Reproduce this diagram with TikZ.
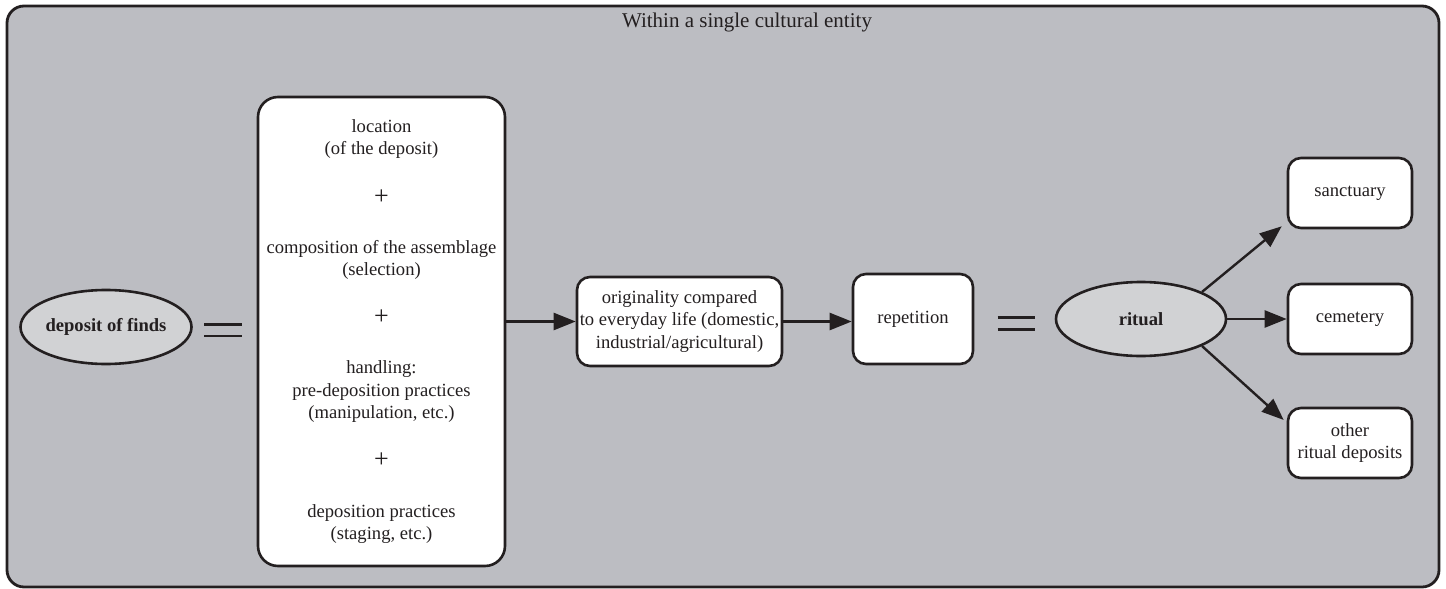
\documentclass[tikz,border=0pt]{standalone}
\usepackage{fontspec}
\setmainfont{Liberation Serif}
\usepackage{xcolor}
\usepackage{tikz}
\usetikzlibrary{shapes.geometric,arrows.meta,positioning}

\definecolor{framegray}{RGB}{188,189,194}
\definecolor{ovalgray}{RGB}{209,210,212}
\definecolor{inkgray}{RGB}{35,31,32}

\newcommand{\plusline}{{\fontsize{13}{11.25}\selectfont +}}

\begin{document}
\begin{tikzpicture}[
    x=0.5pt, y=-0.5pt,
    every node/.style={text=inkgray, font=\fontsize{9.3}{11.25}\selectfont},
    box/.style={rectangle, draw=inkgray, line width=1.3pt, fill=white, rounded corners=6.5pt, align=center, inner sep=1pt},
    bigbox/.style={box, rounded corners=10pt, minimum width=123.5pt, minimum height=234.5pt},
    leafbox/.style={box, minimum width=62pt, minimum height=35pt},
    oval/.style={ellipse, draw=inkgray, line width=1.3pt, fill=ovalgray, minimum width=85pt, minimum height=37pt, inner sep=0pt, font=\fontsize{9.3}{11.25}\selectfont\bfseries},
    eqsign/.style={minimum width=18.5pt, minimum height=5.5pt, inner sep=0pt},
    eqline/.style={line width=1.4pt, draw=inkgray},
    arrow/.style={-{Triangle[length=11pt,width=8.5pt]}, line width=1.2pt, draw=inkgray}
]

\useasboundingbox (0,0) rectangle (1446,589);

% Frame
\draw[line width=1.4pt, draw=inkgray, fill=framegray, rounded corners=8.5pt] (7,6) rectangle (1439,587);
\node[font=\fontsize{10.5}{12.5}\selectfont] (title) at (747,22) {Within a single cultural entity};

% Left part
\node[oval] (deposit) at (106,327) {deposit of finds};
\node[eqsign] (eqleft) at (223,330) {};
\node[bigbox] (criteria) at (381.5,331.5) {location\\(of the deposit)\\[13.3pt]
    \plusline\\[13.3pt]
    composition of the assemblage\\(selection)\\[13.3pt]
    \plusline\\[13.3pt]
    handling:\\pre-deposition practices\\(manipulation, etc.)\\[13.3pt]
    \plusline\\[13.3pt]
    deposition practices\\(staging, etc.)};

% Middle part
\node[box, minimum width=102.5pt, minimum height=44.5pt] (origin) at (679.5,321.5) {originality compared\\to everyday life (domestic,\\industrial/agricultural)};
\node[box, minimum width=60pt, minimum height=45pt] (repeat) at (913,319) {repetition};
\node[eqsign] (eqright) at (1016.5,323.5) {};

% Right part
\node[oval] (ritual) at (1141,319) {ritual};
\node[leafbox] (sanctuary) at (1350,193) {sanctuary};
\node[leafbox] (cemetery) at (1350,319) {cemetery};
\node[leafbox] (otherdep) at (1350,443) {other\\ritual deposits};

% Equals signs
\draw[eqline] (eqleft.north west) -- (eqleft.north east);
\draw[eqline] (eqleft.south west) -- (eqleft.south east);
\draw[eqline] (eqright.north west) -- (eqright.north east);
\draw[eqline] (eqright.south west) -- (eqright.south east);

% Arrows
\draw[arrow] (criteria.east |- origin.west) -- (origin.west);
\draw[arrow] (origin.east) -- (origin.east -| repeat.west);
\draw[arrow] (ritual.north east) -- ([xshift=-2.5pt,yshift=1.5pt]sanctuary.south west);
\draw[arrow] (ritual.east) -- (cemetery.west);
\draw[arrow] (ritual.south east) -- ([xshift=-1.5pt]otherdep.160);

\end{tikzpicture}
\end{document}
